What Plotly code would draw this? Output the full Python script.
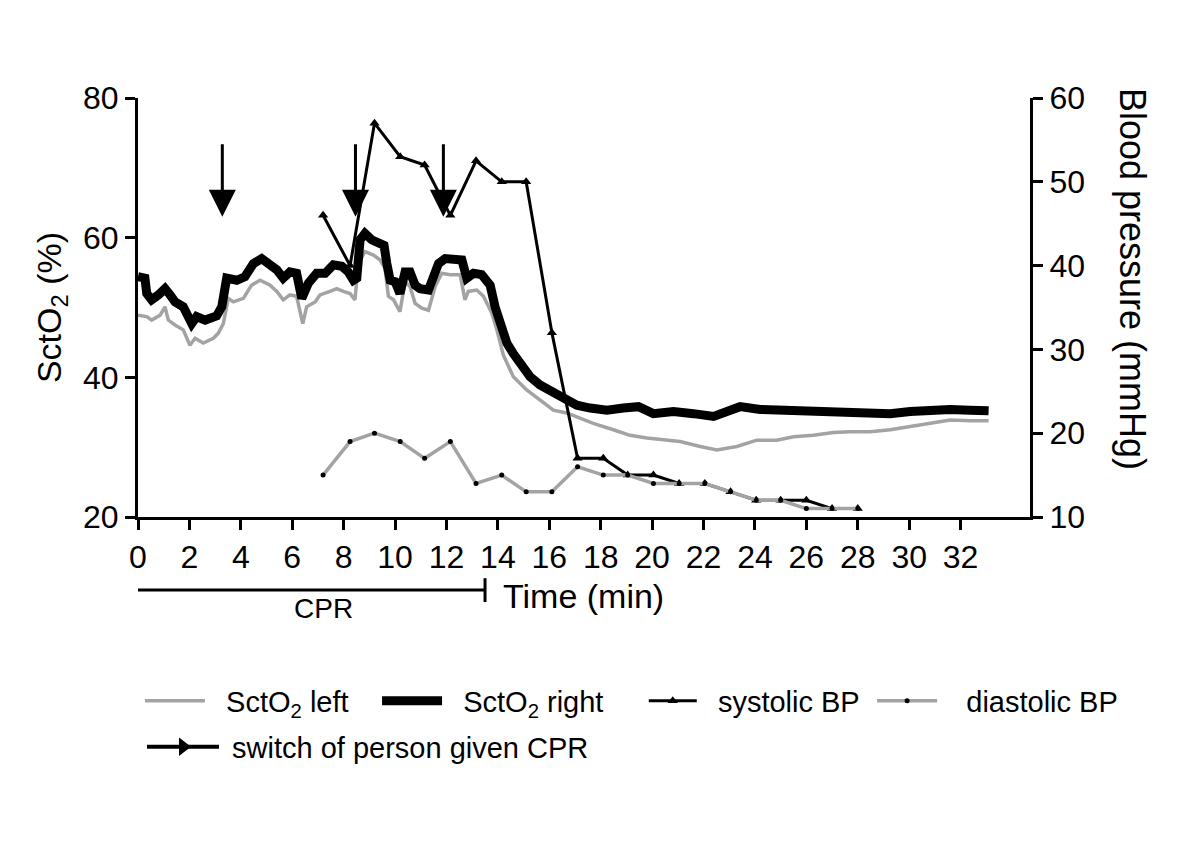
import plotly.graph_objects as go

# ---------------- data ----------------
t_left = [0, 0.34, 0.53, 0.86, 1.05, 1.18, 1.44, 1.76, 2.02, 2.22, 2.54, 2.93, 3.12, 3.32, 3.51,
          3.71, 4.10, 4.42, 4.75, 5.14, 5.40, 5.65, 5.91, 6.17, 6.41, 6.56, 6.89, 7.08, 7.47, 7.73,
          7.99, 8.25, 8.44, 8.57, 8.83, 9.16, 9.42, 9.61, 9.74, 9.94, 10.19, 10.39, 10.58, 10.78,
          11.04, 11.30, 11.56, 11.82, 12.14, 12.53, 12.72, 12.85, 13.18, 13.44, 13.76, 13.96, 14.21,
          14.60, 15.12, 15.64, 16.16, 16.68, 17.20, 17.71, 18.49, 19.14, 19.79, 20.57, 21.09, 21.87,
          22.52, 23.30, 24.07, 24.85, 25.50, 26.27, 27.05, 27.70, 28.48, 29.26, 30.04, 30.82, 31.60,
          32.37, 33.09]
sct_left = [48.9, 48.7, 48.2, 48.9, 50.1, 48.2, 47.5, 46.8, 44.6, 45.6, 44.9, 45.6, 46.3, 47.7, 51.3,
            50.8, 51.3, 53.2, 53.9, 53.2, 52.3, 51.1, 51.8, 51.6, 47.7, 50.1, 50.8, 51.8, 52.3, 52.7,
            52.3, 52.0, 51.1, 56.3, 58.0, 57.5, 56.8, 55.6, 51.6, 51.1, 49.4, 53.7, 53.0, 50.6,
            49.9, 49.6, 53.0, 54.9, 54.7, 54.7, 51.1, 52.3, 52.5, 51.6, 49.2, 46.8, 43.2,
            40.1, 38.2, 36.8, 35.3, 34.9, 34.1, 33.4, 32.5, 31.7, 31.3, 31.0, 30.8, 30.1,
            29.6, 30.1, 31.0, 31.0, 31.5, 31.7, 32.1, 32.2, 32.2, 32.5, 33.0, 33.5, 33.9,
            33.8, 33.8]

t_right = [0, 0.27, 0.34, 0.53, 0.79, 1.05, 1.25, 1.44, 1.76, 2.09, 2.28, 2.61, 3.06, 3.26, 3.45,
           3.84, 4.16, 4.49, 4.81, 5.14, 5.40, 5.65, 5.91, 6.17, 6.37, 6.63, 6.95, 7.28, 7.60, 7.93,
           8.18, 8.38, 8.51, 8.64, 8.83, 9.09, 9.35, 9.57, 9.68, 9.81, 10.0, 10.19, 10.39, 10.58,
           10.78, 10.97, 11.30, 11.49, 11.69, 11.95, 12.27, 12.60, 12.79, 13.05, 13.37, 13.70, 13.89,
           14.09, 14.35, 14.60, 14.86, 15.25, 15.64, 16.10, 16.55, 17.07, 17.59, 18.24, 18.88, 19.47,
           20.05, 20.83, 21.61, 22.39, 22.91, 23.42, 24.20, 24.85, 25.50, 26.80, 27.58, 28.48, 29.26,
           30.04, 30.82, 31.60, 32.37, 33.09]
sct_right = [54.4, 54.2, 52.0, 51.1, 51.8, 52.7, 51.8, 50.8, 50.1, 47.7, 48.7, 48.2, 48.8, 50.1, 54.2,
             53.9, 54.4, 56.3, 57.0, 56.3, 55.4, 54.2, 55.1, 54.9, 51.3, 53.5, 54.9, 54.9, 56.1, 55.9,
             55.1, 53.9, 54.2, 59.7, 60.6, 59.7, 59.2, 58.9, 56.3, 53.9, 53.7, 52.0, 55.1, 55.1,
             53.2, 52.7, 52.5, 54.4, 56.3, 57.0, 56.8, 56.8, 54.2, 54.9, 54.7, 53.2, 50.1,
             47.3, 44.9, 43.4, 42.0, 40.1, 38.9, 37.9, 37.0, 36.0, 35.6, 35.3, 35.6, 35.8,
             34.8, 35.1, 34.8, 34.4, 35.1, 35.8, 35.4, 35.3, 35.1, 35.1, 34.8, 34.8, 34.8,
             35.1, 35.4, 35.4, 35.3, 35.2]

bp_time = [7.2, 8.25, 9.2, 10.2, 11.15, 12.15, 13.15, 14.15, 15.1, 16.1, 17.1, 18.1, 19.05, 20.05,
           21.05, 22.05, 23.05, 24.05, 25.0, 26.0, 27.0, 28.0]
systolic = [46, 40, 57, 53, 52, 46, 52.5, 50, 50, 32, 17, 17, 15, 15, 14, 14, 13, 12, 12, 12, 11, 11]
diastolic = [15, 19, 20, 19, 17, 19, 14, 15, 13, 13, 16, 15, 15, 14, 14, 14, 13, 12, 12, 11, 11, 11]

switch_times = [3.28, 8.46, 11.88]
cpr_period = [-0.15, 13.5]

x_ticks = list(range(0, 33, 2))
left_ticks = [20, 40, 60, 80]
right_ticks = [10, 20, 30, 40, 50, 60]

# ---------------- figure ----------------
FONT = "Liberation Sans, Arial, sans-serif"
GRAY = "#a3a3a3"
NB = "\u00a0"

fig = go.Figure()
fig.add_trace(go.Scatter(x=t_left, y=sct_left, mode="lines", name=NB * 2 + "SctO<sub>2</sub> left",
                         line=dict(color=GRAY, width=3.5), yaxis="y", legend="legend"))
fig.add_trace(go.Scatter(x=t_right, y=sct_right, mode="lines", name=NB * 2 + "SctO<sub>2</sub> right",
                         line=dict(color="black", width=9), yaxis="y", legend="legend2"))
fig.add_trace(go.Scatter(x=bp_time, y=systolic, mode="lines+markers", name=NB * 2 + "systolic BP",
                         line=dict(color="black", width=3),
                         marker=dict(symbol="triangle-up", size=9, color="black"), yaxis="y2",
                         legend="legend3"))
fig.add_trace(go.Scatter(x=bp_time, y=diastolic, mode="lines+markers", name=NB * 3 + "diastolic BP",
                         line=dict(color=GRAY, width=3.5),
                         marker=dict(symbol="circle", size=5, color="black"), yaxis="y2",
                         legend="legend4"))
fig.add_trace(go.Scatter(x=[None], y=[None], mode="lines+markers",
                         name=NB + "switch of person given CPR",
                         line=dict(color="black", width=4),
                         marker=dict(symbol="triangle-right", size=22, color="black"),
                         legend="legend5"))

for st in switch_times:
    fig.add_annotation(x=st, y=63.0, ax=st, ay=73.6, xref="x", yref="y", axref="x", ayref="y",
                       text="", showarrow=True, arrowhead=2, arrowsize=1.8, arrowwidth=3,
                       arrowcolor="black")

# CPR bar below the axis
fig.add_shape(type="line", xref="x", yref="paper", x0=cpr_period[0], x1=cpr_period[1],
              y0=-0.174, y1=-0.174, line=dict(color="black", width=3))
for cx in cpr_period:
    fig.add_shape(type="line", xref="x", yref="paper", x0=cx, x1=cx, y0=-0.146, y1=-0.203,
                  line=dict(color="black", width=3))
fig.add_annotation(x=(cpr_period[0] + cpr_period[1]) / 2, y=-0.219, xref="x", yref="paper",
                   xshift=14, text="CPR", showarrow=False,
                   font=dict(size=28, color="black", family=FONT),
                   xanchor="center", yanchor="middle")
fig.add_annotation(x=cpr_period[1], y=-0.1885, xref="x", yref="paper", xshift=16,
                   text="Time (min)", showarrow=False,
                   font=dict(size=34, color="black", family=FONT),
                   xanchor="left", yanchor="middle")
fig.add_annotation(x=1.1155, y=0.568, xref="paper", yref="paper", text="Blood pressure (mmHg)",
                   textangle=90, showarrow=False, font=dict(size=36, color="black", family=FONT),
                   xanchor="center", yanchor="middle")

axis_common = dict(showline=True, linecolor="black", linewidth=3, ticks="outside", ticklen=10,
                   tickwidth=3, tickcolor="black", showgrid=False, zeroline=False,
                   tickfont=dict(size=32, color="black", family=FONT))

legend_font = dict(size=29, color="black", family=FONT)


def leg(xp, yp, iw=60):
    return dict(orientation="h", x=xp, xanchor="left", y=yp, yanchor="top", font=legend_font,
                itemwidth=iw, bgcolor="rgba(0,0,0,0)")


# page body adds an 8px offset, so margins are shifted by 8px to keep the plot in place
fig.update_layout(
    width=1200, height=848,
    margin=dict(l=130, r=178, t=90, b=339, autoexpand=False),
    paper_bgcolor="white", plot_bgcolor="white",
    font=dict(family=FONT, color="black"),
    xaxis=dict(range=[0, 34.7], tickvals=x_ticks, **axis_common),
    yaxis=dict(range=[20, 80], tickvals=left_ticks,
               title=dict(text="SctO<sub>2</sub> (%)", font=dict(size=34, color="black", family=FONT),
                          standoff=12),
               **axis_common),
    yaxis2=dict(range=[10, 60], tickvals=right_ticks, overlaying="y", side="right", anchor="x",
                **axis_common),
    legend=leg(0.0022, -0.378),
    legend2=leg(0.268, -0.378),
    legend3=leg(0.567, -0.378, 48),
    legend4=leg(0.823, -0.378),
    legend5=leg(0.0045, -0.488, 72),
    showlegend=True,
)

fig.write_html("out.html")
